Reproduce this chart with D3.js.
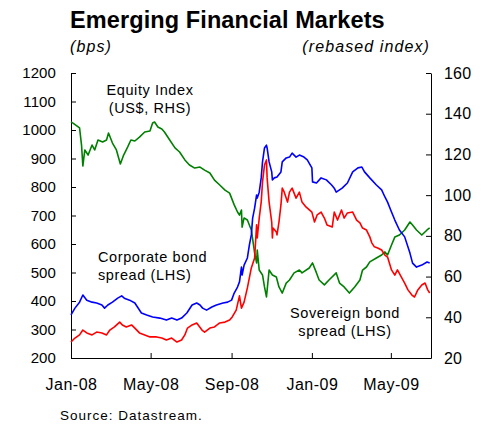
<!DOCTYPE html>
<html>
<head>
<meta charset="utf-8">
<script src="https://cdn.jsdelivr.net/npm/d3@7"></script>
<style>
  html, body { margin: 0; padding: 0; background: #fff; }
  svg { display: block; font-family: "Liberation Sans", Arial, sans-serif; }
</style>
</head>
<body>
<svg id="chart" width="488" height="425"></svg>
<script>
// ---- Data ----
const xTickDates = ["2008-01-01", "2008-05-01", "2008-09-01", "2009-01-01", "2009-05-01"];
const xTickLabels = ["Jan-08", "May-08", "Sep-08", "Jan-09", "May-09"];
const leftTicks = [200, 300, 400, 500, 600, 700, 800, 900, 1000, 1100, 1200];
const rightTicks = [20, 40, 60, 80, 100, 120, 140, 160];

// Equity index (US$, RHS) — rebased index
const equityIndex = [
  ["2008-01-01",136],["2008-01-04",135.4],["2008-01-14",133],["2008-01-17",124.6],["2008-01-19",114.3],
  ["2008-01-22",122.2],["2008-01-27",119.7],["2008-02-02",124.6],["2008-02-06",122.2],["2008-02-11",127.1],
  ["2008-02-18",126.1],["2008-02-24",127.1],["2008-02-27",130.5],["2008-03-04",125.6],["2008-03-10",122.2],
  ["2008-03-16",115.3],["2008-03-21",119.7],["2008-03-27",123.6],["2008-04-01",127.1],["2008-04-07",126.6],
  ["2008-04-14",128.5],["2008-04-22",131],["2008-04-30",131.5],["2008-05-04",135.4],["2008-05-07",135.9],
  ["2008-05-12",133.5],["2008-05-18",132.5],["2008-05-22",131],["2008-05-30",127.1],["2008-06-07",123.2],
  ["2008-06-14",121.2],["2008-06-22",117.3],["2008-06-29",114.8],["2008-07-07",113.3],["2008-07-15",113.8],
  ["2008-07-22",112.3],["2008-07-30",110.9],["2008-08-06",107.4],["2008-08-14",105],["2008-08-22",102.5],
  ["2008-08-29",101],["2008-09-05",95.2],["2008-09-10",91.7],["2008-09-13",90.2],["2008-09-16",92.7],
  ["2008-09-17",84.3],["2008-09-20",88.8],["2008-09-25",87.8],["2008-10-01",82.9],["2008-10-06",71.6],
  ["2008-10-09",66.7],["2008-10-10",73],["2008-10-13",63.2],["2008-10-18",60.8],["2008-10-21",54.9],
  ["2008-10-24",50],["2008-10-28",63.2],["2008-11-02",60.8],["2008-11-08",59.8],["2008-11-12",54.9],
  ["2008-11-17",51.9],["2008-11-23",56.8],["2008-11-28",58.3],["2008-12-05",61.8],["2008-12-13",63.2],
  ["2008-12-17",61.8],["2008-12-28",64.2],["2009-01-02",66.7],["2009-01-08",61.8],["2009-01-12",58.3],
  ["2009-01-20",55.9],["2009-01-27",58.3],["2009-02-07",61.8],["2009-02-12",56.8],["2009-02-19",54.9],
  ["2009-02-27",51.9],["2009-03-07",54.9],["2009-03-15",58.3],["2009-03-19",63.2],["2009-03-25",64.7],
  ["2009-03-30",67.2],["2009-04-09",69.1],["2009-04-17",70.6],["2009-04-22",72.1],["2009-04-26",70.6],
  ["2009-05-02",75.5],["2009-05-07",79.4],["2009-05-14",80.4],["2009-05-22",82.9],["2009-05-30",86.8],
  ["2009-06-03",85.3],["2009-06-09",82.9],["2009-06-17",80.4],["2009-06-25",82.9],["2009-06-29",83.9]
];

// Corporate bond spread (LHS, bps)
const corporateSpread = [
  ["2008-01-01",351],["2008-01-07",375],["2008-01-14",396],["2008-01-19",421],["2008-01-25",403],
  ["2008-02-02",396],["2008-02-09",393],["2008-02-17",386],["2008-02-21",375],["2008-02-26",386],
  ["2008-03-04",396],["2008-03-12",410],["2008-03-18",418],["2008-03-22",410],["2008-03-30",403],
  ["2008-04-07",393],["2008-04-11",379],["2008-04-17",358],["2008-04-25",351],["2008-05-04",344],
  ["2008-05-15",340],["2008-05-25",333],["2008-06-02",340],["2008-06-10",333],["2008-06-17",340],
  ["2008-06-25",358],["2008-07-03",386],["2008-07-10",393],["2008-07-15",386],["2008-07-19",375],
  ["2008-07-25",368],["2008-08-02",379],["2008-08-09",386],["2008-08-19",393],["2008-08-26",396],
  ["2008-09-01",403],["2008-09-05",428],["2008-09-10",449],["2008-09-13",467],["2008-09-16",519],
  ["2008-09-17",491],["2008-09-20",526],["2008-09-25",551],["2008-09-28",596],["2008-10-01",632],
  ["2008-10-03",691],["2008-10-06",726],["2008-10-09",772],["2008-10-10",761],["2008-10-13",782],
  ["2008-10-16",832],["2008-10-18",888],["2008-10-21",937],["2008-10-24",947],["2008-10-25",937],
  ["2008-10-28",888],["2008-11-01",853],["2008-11-02",825],["2008-11-05",832],["2008-11-09",835],
  ["2008-11-15",853],["2008-11-17",888],["2008-11-23",902],["2008-11-28",905],["2008-12-02",919],
  ["2008-12-08",905],["2008-12-13",912],["2008-12-20",905],["2008-12-25",895],["2009-01-01",867],
  ["2009-01-02",818],["2009-01-08",814],["2009-01-15",832],["2009-01-23",825],["2009-01-31",807],
  ["2009-02-04",796],["2009-02-07",782],["2009-02-16",796],["2009-02-24",814],["2009-03-04",853],
  ["2009-03-12",867],["2009-03-18",870],["2009-03-22",853],["2009-03-30",832],["2009-04-09",807],
  ["2009-04-17",790],["2009-04-22",765],["2009-04-26",747],["2009-05-02",712],["2009-05-07",684],
  ["2009-05-14",649],["2009-05-22",625],["2009-05-30",568],["2009-06-03",533],["2009-06-09",519],
  ["2009-06-17",526],["2009-06-25",537],["2009-06-29",533]
];

// Sovereign bond spread (LHS, bps)
const sovereignSpread = [
  ["2008-01-01",256],["2008-01-07",270],["2008-01-14",281],["2008-01-19",298],["2008-01-25",288],
  ["2008-02-02",281],["2008-02-09",291],["2008-02-17",288],["2008-02-24",281],["2008-02-29",298],
  ["2008-03-07",309],["2008-03-15",326],["2008-03-19",316],["2008-03-25",309],["2008-04-02",316],
  ["2008-04-07",305],["2008-04-14",288],["2008-04-22",281],["2008-04-30",274],["2008-05-10",274],
  ["2008-05-18",270],["2008-05-25",263],["2008-06-02",270],["2008-06-10",256],["2008-06-17",263],
  ["2008-06-22",281],["2008-06-26",305],["2008-07-03",316],["2008-07-10",323],["2008-07-18",298],
  ["2008-07-22",291],["2008-07-30",305],["2008-08-06",309],["2008-08-14",323],["2008-08-22",326],
  ["2008-08-29",333],["2008-09-02",344],["2008-09-08",368],["2008-09-13",418],["2008-09-16",375],
  ["2008-09-20",396],["2008-09-25",446],["2008-10-01",516],["2008-10-06",551],["2008-10-09",667],
  ["2008-10-10",621],["2008-10-13",691],["2008-10-16",747],["2008-10-18",818],["2008-10-21",877],
  ["2008-10-24",895],["2008-10-25",832],["2008-10-28",747],["2008-11-01",677],["2008-11-02",621],
  ["2008-11-03",656],["2008-11-08",642],["2008-11-09",632],["2008-11-12",677],["2008-11-15",737],
  ["2008-11-17",796],["2008-11-20",782],["2008-11-25",747],["2008-11-28",782],["2008-12-02",796],
  ["2008-12-08",761],["2008-12-13",782],["2008-12-17",747],["2008-12-23",730],["2009-01-01",712],
  ["2009-01-05",677],["2009-01-09",702],["2009-01-15",712],["2009-01-20",691],["2009-01-24",667],
  ["2009-02-01",660],["2009-02-04",712],["2009-02-09",684],["2009-02-15",719],["2009-02-19",691],
  ["2009-02-24",709],["2009-03-04",712],["2009-03-10",684],["2009-03-15",674],["2009-03-19",656],
  ["2009-03-25",649],["2009-03-30",625],["2009-04-02",604],["2009-04-06",590],["2009-04-11",586],
  ["2009-04-17",579],["2009-04-22",561],["2009-04-26",554],["2009-05-02",509],["2009-05-07",491],
  ["2009-05-11",509],["2009-05-17",484],["2009-05-22",463],["2009-05-27",439],["2009-06-02",421],
  ["2009-06-06",414],["2009-06-11",439],["2009-06-17",456],["2009-06-22",463],["2009-06-26",439],
  ["2009-06-29",428]
];

// ---- Layout ----
const svg = d3.select("#chart");
const margin = { left: 71, right: 488 - 431, top: 73, bottom: 425 - 358 };
const width = 431 - 71, height = 358 - 73;
const parse = d3.timeParse("%Y-%m-%d");

const x = d3.scaleTime()
  .domain([parse("2008-01-01"), parse("2009-07-01")])
  .range([margin.left, margin.left + width]);
const yL = d3.scaleLinear().domain([200, 1200]).range([margin.top + height, margin.top]);
const yR = d3.scaleLinear().domain([20, 160]).range([margin.top + height, margin.top]);

const FONT = '"Liberation Sans", Arial, sans-serif';

// Title and unit labels
svg.append("text").attr("x", 70).attr("y", 28)
  .attr("font-size", 23.5).attr("font-weight", "bold").attr("letter-spacing", 0.1)
  .text("Emerging Financial Markets");
svg.append("text").attr("x", 70).attr("y", 52)
  .attr("font-size", 16).attr("font-style", "italic").attr("letter-spacing", 1.1)
  .text("(bps)");
svg.append("text").attr("x", 430).attr("y", 52).attr("text-anchor", "end")
  .attr("font-size", 16).attr("font-style", "italic").attr("letter-spacing", 1.1)
  .text("(rebased index)");

// Axes
const leftAxis = d3.axisLeft(yL).tickValues(leftTicks).tickFormat(d3.format("d"))
  .tickSize(-5).tickSizeOuter(0).tickPadding(15);
const rightAxis = d3.axisRight(yR).tickValues(rightTicks).tickFormat(d3.format("d"))
  .tickSize(-5).tickSizeOuter(0).tickPadding(13);
const bottomAxis = d3.axisBottom(x).tickValues(xTickDates.map(parse)).tickSize(-5).tickSizeOuter(0)
  .tickPadding(21).tickFormat((d, i) => xTickLabels[i]);

function styleAxis(g, size, ls) {
  g.selectAll("path, line").attr("stroke", "#000").attr("stroke-width", 1);
  g.selectAll("text").attr("font-size", size).attr("font-family", FONT).attr("fill", "#000")
    .attr("letter-spacing", ls);
}
svg.append("g").attr("transform", `translate(${margin.left},0)`).call(leftAxis).call(g => styleAxis(g, 15, 0.1));
svg.append("g").attr("transform", `translate(${margin.left + width},0)`).call(rightAxis).call(g => styleAxis(g, 16, 0.2));
svg.append("g").attr("transform", `translate(0,${margin.top + height})`).call(bottomAxis).call(g => styleAxis(g, 16, 0.5));

// Lines
const lineL = d3.line().x(d => x(parse(d[0]))).y(d => yL(d[1]));
const lineR = d3.line().x(d => x(parse(d[0]))).y(d => yR(d[1]));

svg.append("path").datum(equityIndex).attr("d", lineR)
  .attr("fill", "none").attr("stroke", "#008000").attr("stroke-width", 1.6).attr("stroke-linejoin", "round");
svg.append("path").datum(corporateSpread).attr("d", lineL)
  .attr("fill", "none").attr("stroke", "#0000ff").attr("stroke-width", 1.6).attr("stroke-linejoin", "round");
svg.append("path").datum(sovereignSpread).attr("d", lineL)
  .attr("fill", "none").attr("stroke", "#ff0000").attr("stroke-width", 1.6).attr("stroke-linejoin", "round");

// Series labels
function label(lines, xPos, yPos, anchor) {
  const t = svg.append("text").attr("font-size", 14.5).attr("letter-spacing", 0.6)
    .attr("text-anchor", anchor).attr("fill", "#000");
  lines.forEach((s, i) => t.append("tspan").attr("x", xPos).attr("y", yPos + i * 18).text(s));
}
label(["Equity Index", "(US$, RHS)"], 150, 95, "middle");
label(["Corporate bond", "spread (LHS)"], 98, 262, "start");
label(["Sovereign bond", "spread (LHS)"], 345, 318, "middle");

// Source
svg.append("text").attr("x", 60).attr("y", 420)
  .attr("font-size", 13.5).attr("letter-spacing", 1).text("Source: Datastream.");
</script>
</body>
</html>
